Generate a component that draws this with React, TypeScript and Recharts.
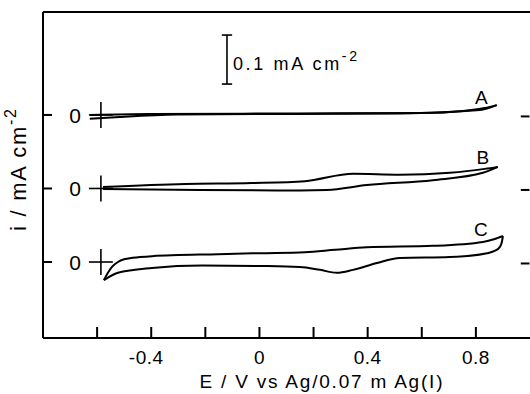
import { ComposedChart, Line, XAxis, YAxis, ReferenceLine, ReferenceDot } from 'recharts';

// potential axis
const xTicks = [-0.6, -0.4, -0.2, 0, 0.2, 0.4, 0.6, 0.8];
const xTickLabels = ['', '-0.4', '', '0', '', '0.4', '', '0.8'];

// each trace sits on its own zero line (mA cm-2 offsets)
const traceNames = ['A', 'B', 'C'];
const zeroOffsets = [0.3, 0.15, 0];
const labelE = [0.82, 0.826, 0.818];
const labelI = [0.037, 0.064, 0.068];

// trace A (anodic / cathodic branches, sorted by E)
const aUpperE = [-0.626, -0.405, 0.15, 0.593, 0.752, 0.833, 0.877];
const aUpperI = [0.0, 0.002, 0.003, 0.004, 0.008, 0.014, 0.02];
const aLowerE = [-0.627, -0.516, -0.305, 0.519, 0.815, 0.877];
const aLowerI = [-0.008, -0.004, 0.001, 0.003, 0.01, 0.02];

// trace B
const bUpperE = [-0.578, -0.275, -0.028, 0.168, 0.346, 0.519, 0.704, 0.833, 0.881];
const bUpperI = [0.003, 0.009, 0.011, 0.015, 0.03, 0.028, 0.032, 0.04, 0.044];
const bLowerE = [-0.578, -0.22, 0.15, 0.249, 0.397, 0.641, 0.826, 0.881];
const bLowerI = [-0.001, -0.003, -0.004, -0.003, 0.007, 0.017, 0.032, 0.044];

// trace C
const cUpperE = [-0.575, -0.56, -0.545, -0.523, -0.497, -0.442, -0.397, -0.153, 0.002, 0.168, 0.28, 0.397, 0.641, 0.826, 0.87, 0.9];
const cUpperI = [-0.037, -0.022, -0.01, 0.0, 0.006, 0.01, 0.012, 0.016, 0.018, 0.02, 0.025, 0.03, 0.033, 0.041, 0.047, 0.053];
const cLowerE = [-0.575, -0.523, -0.397, -0.212, 0.002, 0.15, 0.224, 0.286, 0.346, 0.434, 0.519, 0.704, 0.841, 0.867, 0.889, 0.896, 0.9];
const cLowerI = [-0.037, -0.022, -0.012, -0.007, -0.008, -0.01, -0.016, -0.022, -0.016, -0.002, 0.008, 0.01, 0.018, 0.022, 0.031, 0.041, 0.053];

const crossE = -0.586;
const scaleBarE = -0.12;
const scaleBarI = [0.363, 0.463];
const rightTickE = [0.966, 0.998];

const W = 530;
const H = 394;
const LEFT = 43;
const TOP = 12;
const BOTTOM = 338;
const FONT = '"Liberation Sans", Arial, sans-serif';

const pts = (e: number[], i: number[], off: number) => e.map((v, k) => ({ E: v, i: i[k] + off }));

const branches = [
  pts(aUpperE, aUpperI, zeroOffsets[0]),
  pts(aLowerE, aLowerI, zeroOffsets[0]),
  pts(bUpperE, bUpperI, zeroOffsets[1]),
  pts(bLowerE, bLowerI, zeroOffsets[1]),
  pts(cUpperE, cUpperI, zeroOffsets[2]),
  pts(cLowerE, cLowerI, zeroOffsets[2]),
];

const BottomTick = (props: any) => {
  const { x, payload } = props;
  const label = xTickLabels[xTicks.indexOf(payload.value)];
  return (
    <g>
      <line x1={x} x2={x} y1={BOTTOM} y2={BOTTOM - 11} stroke="#000" strokeWidth={2} />
      {label ? (
        <text x={x} y={BOTTOM + 26} dx={label.startsWith('-') ? -5 : 0} textAnchor="middle" fontSize={19} fontFamily={FONT} fill="#000" letterSpacing={0.5}>
          {label}
        </text>
      ) : null}
    </g>
  );
};

const TopTick = (props: any) => (
  <line x1={props.x} x2={props.x} y1={TOP} y2={TOP + 12} stroke="#000" strokeWidth={2} />
);

const ZeroTick = (props: any) => (
  <g>
    <line x1={LEFT} x2={LEFT + 9} y1={props.y} y2={props.y} stroke="#000" strokeWidth={2} />
    <text x={75} y={props.y} dy={8} textAnchor="middle" fontSize={21} fontFamily={FONT} fill="#000">
      0
    </text>
  </g>
);

const Cross = (props: any) => (
  <g stroke="#000" strokeWidth={1.6}>
    <line x1={props.cx - 12} x2={props.cx + 12} y1={props.cy} y2={props.cy} />
    <line x1={props.cx} x2={props.cx} y1={props.cy - 13} y2={props.cy + 13} />
  </g>
);

const makeName = (name: string) => (props: any) => (
  <text x={props.cx} y={props.cy} dy={7} textAnchor="middle" fontSize={19} fontFamily={FONT} fill="#000">
    {name}
  </text>
);

const ScaleText = (props: any) => (
  <text x={props.cx} y={props.cy} dy={7} fontSize={18} fontFamily={FONT} fill="#000" textLength={124} lengthAdjust="spacing">
    0.1 mA cm
    <tspan dy={-9} fontSize={14}>-2</tspan>
  </text>
);

const XTitle = () => (
  <text x={321} y={388} textAnchor="middle" fontSize={19} fontFamily={FONT} fill="#000" textLength={243} lengthAdjust="spacing">
    E / V vs Ag/0.07 m Ag(I)
  </text>
);

const YTitle = () => (
  <text x={0} y={0} transform="translate(26,170) rotate(-90)" textAnchor="middle" fontSize={22} fontFamily={FONT} fill="#000" textLength={122} lengthAdjust="spacing">
    i / mA cm
    <tspan dy={-10} fontSize={16}>-2</tspan>
  </text>
);

// axis sizes are taken out of the margins so the frame lands at LEFT/TOP/BOTTOM
const X_AXIS_H = 30;
const TOP_AXIS_H = 8;
const Y_AXIS_W = 20;

export default function App() {
  return (
    <div style={{ position: 'absolute', left: 0, top: 0, width: W, height: H, background: '#fff' }}>
      <ComposedChart
        width={W}
        height={H}
        margin={{ top: TOP - TOP_AXIS_H, right: 0, bottom: H - BOTTOM - X_AXIS_H, left: LEFT - Y_AXIS_W }}
      >
        <XAxis
          dataKey="E"
          type="number"
          domain={[-0.8, 1.0]}
          ticks={xTicks}
          interval={0}
          height={X_AXIS_H}
          axisLine={{ stroke: '#000', strokeWidth: 2 }}
          tickLine={false}
          tick={<BottomTick />}
          label={<XTitle />}
        />
        <XAxis
          xAxisId="top"
          orientation="top"
          dataKey="E"
          type="number"
          domain={[-0.8, 1.0]}
          ticks={xTicks}
          interval={0}
          height={TOP_AXIS_H}
          axisLine={{ stroke: '#000', strokeWidth: 2 }}
          tickLine={false}
          tick={<TopTick />}
        />
        <YAxis
          type="number"
          domain={[-0.155, 0.51]}
          ticks={zeroOffsets}
          interval={0}
          width={Y_AXIS_W}
          axisLine={{ stroke: '#000', strokeWidth: 2 }}
          tickLine={false}
          tick={<ZeroTick />}
          label={<YTitle />}
        />

        {branches.map((d, k) => (
          <Line
            key={k}
            data={d}
            dataKey="i"
            type="monotone"
            stroke="#000"
            strokeWidth={2}
            dot={false}
            activeDot={false}
            isAnimationActive={false}
          />
        ))}

        {zeroOffsets.map((off, k) => (
          <ReferenceDot key={`x${k}`} x={crossE} y={off} r={0} shape={<Cross />} />
        ))}
        {zeroOffsets.map((off, k) => (
          <ReferenceLine
            key={`r${k}`}
            segment={[{ x: rightTickE[0], y: off - 0.003 }, { x: rightTickE[1], y: off - 0.003 }]}
            stroke="#000"
            strokeWidth={2}
            ifOverflow="visible"
          />
        ))}
        {traceNames.map((n, k) => (
          <ReferenceDot key={`n${k}`} x={labelE[k]} y={zeroOffsets[k] + labelI[k]} r={0} shape={makeName(n)} />
        ))}

        <ReferenceLine segment={[{ x: scaleBarE, y: scaleBarI[0] }, { x: scaleBarE, y: scaleBarI[1] }]} stroke="#000" strokeWidth={1.6} />
        <ReferenceLine segment={[{ x: scaleBarE - 0.019, y: scaleBarI[0] }, { x: scaleBarE + 0.019, y: scaleBarI[0] }]} stroke="#000" strokeWidth={1.6} />
        <ReferenceLine segment={[{ x: scaleBarE - 0.019, y: scaleBarI[1] }, { x: scaleBarE + 0.019, y: scaleBarI[1] }]} stroke="#000" strokeWidth={1.6} />
        <ReferenceDot x={-0.098} y={0.406} r={0} shape={<ScaleText />} />
      </ComposedChart>
    </div>
  );
}
